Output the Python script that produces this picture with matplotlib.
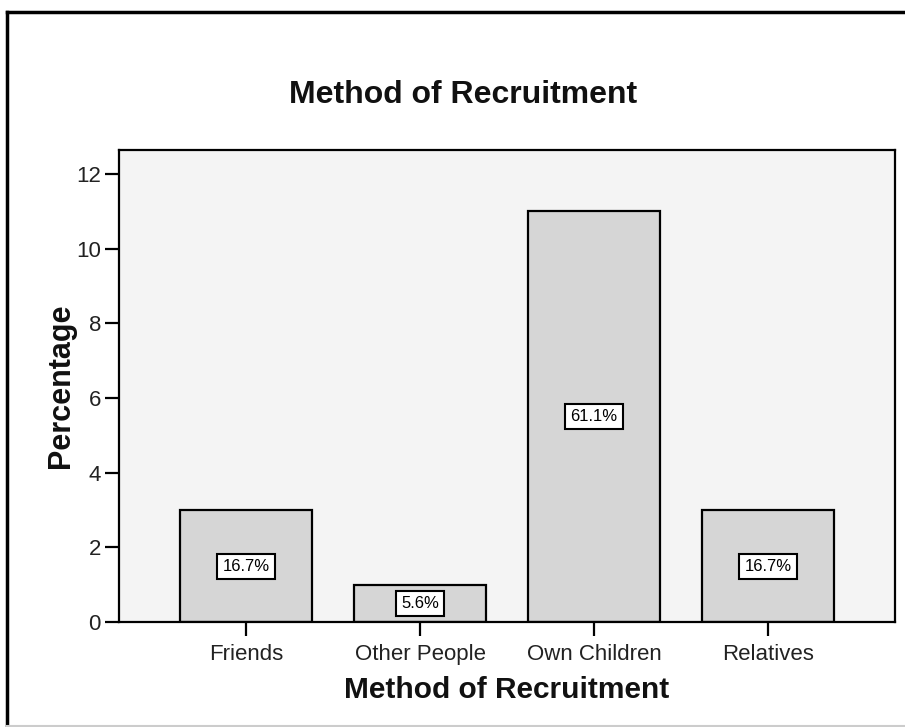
import matplotlib.pyplot as plt
import numpy as np

categories = ['Friends', 'Other People', 'Own Children', 'Relatives']
counts = [3, 1, 11, 3]
pct_labels = ['16.7%', '5.6%', '61.1%', '16.7%']
yticks = [0, 2, 4, 6, 8, 10, 12]

plt.rcParams['font.family'] = ['Liberation Sans', 'DejaVu Sans']

fig = plt.figure(figsize=(9.05, 7.27), dpi=100)
ax = fig.add_axes([0.1315, 0.1444, 0.989 - 0.1315, 0.7937 - 0.1444])
ax.set_facecolor('#f4f4f4')

x = np.arange(len(categories))
ax.bar(x, counts, width=0.76, color='#d6d6d6', edgecolor='black', linewidth=1.6, zorder=2)

for xi, c, lab in zip(x, counts, pct_labels):
    ax.text(xi, c / 2, lab, ha='center', va='center', fontsize=12, zorder=3,
            bbox=dict(boxstyle='square,pad=0.3', facecolor='white', edgecolor='black', linewidth=1.5))

ax.set_xlim(-0.73, 3.73)
ax.set_ylim(0, 12.64)
ax.set_xticks(x)
ax.set_xticklabels(categories, fontsize=16)
ax.set_yticks(yticks)
ax.set_yticklabels([str(t) for t in yticks], fontsize=16, color='#222222')
ax.tick_params(axis='x', direction='out', length=10, width=1.6, pad=6, labelcolor='#222222')
ax.tick_params(axis='y', direction='out', length=10, width=1.6, pad=3)
for s in ax.spines.values():
    s.set_linewidth(1.6)

ax.set_xlabel('Method of Recruitment', fontsize=21.5, fontweight='bold', labelpad=8, color='#111111')
ax.set_ylabel('Percentage', fontsize=22, fontweight='bold', labelpad=0, color='#111111')
fig.text(0.512, 0.869, 'Method of Recruitment', ha='center', va='center',
         fontsize=23, fontweight='bold', color='#111111')

# outer frame like the SPSS chart border
fig.add_artist(plt.Line2D([0.008, 0.008], [0.0, 0.984], color='black', linewidth=2.5))
fig.add_artist(plt.Line2D([0.008, 1.0], [0.984, 0.984], color='black', linewidth=2.5))
fig.add_artist(plt.Line2D([0.008, 1.0], [0.002, 0.002], color='#cccccc', linewidth=1.5))

fig.savefig('out.png', dpi=100, facecolor='white')
